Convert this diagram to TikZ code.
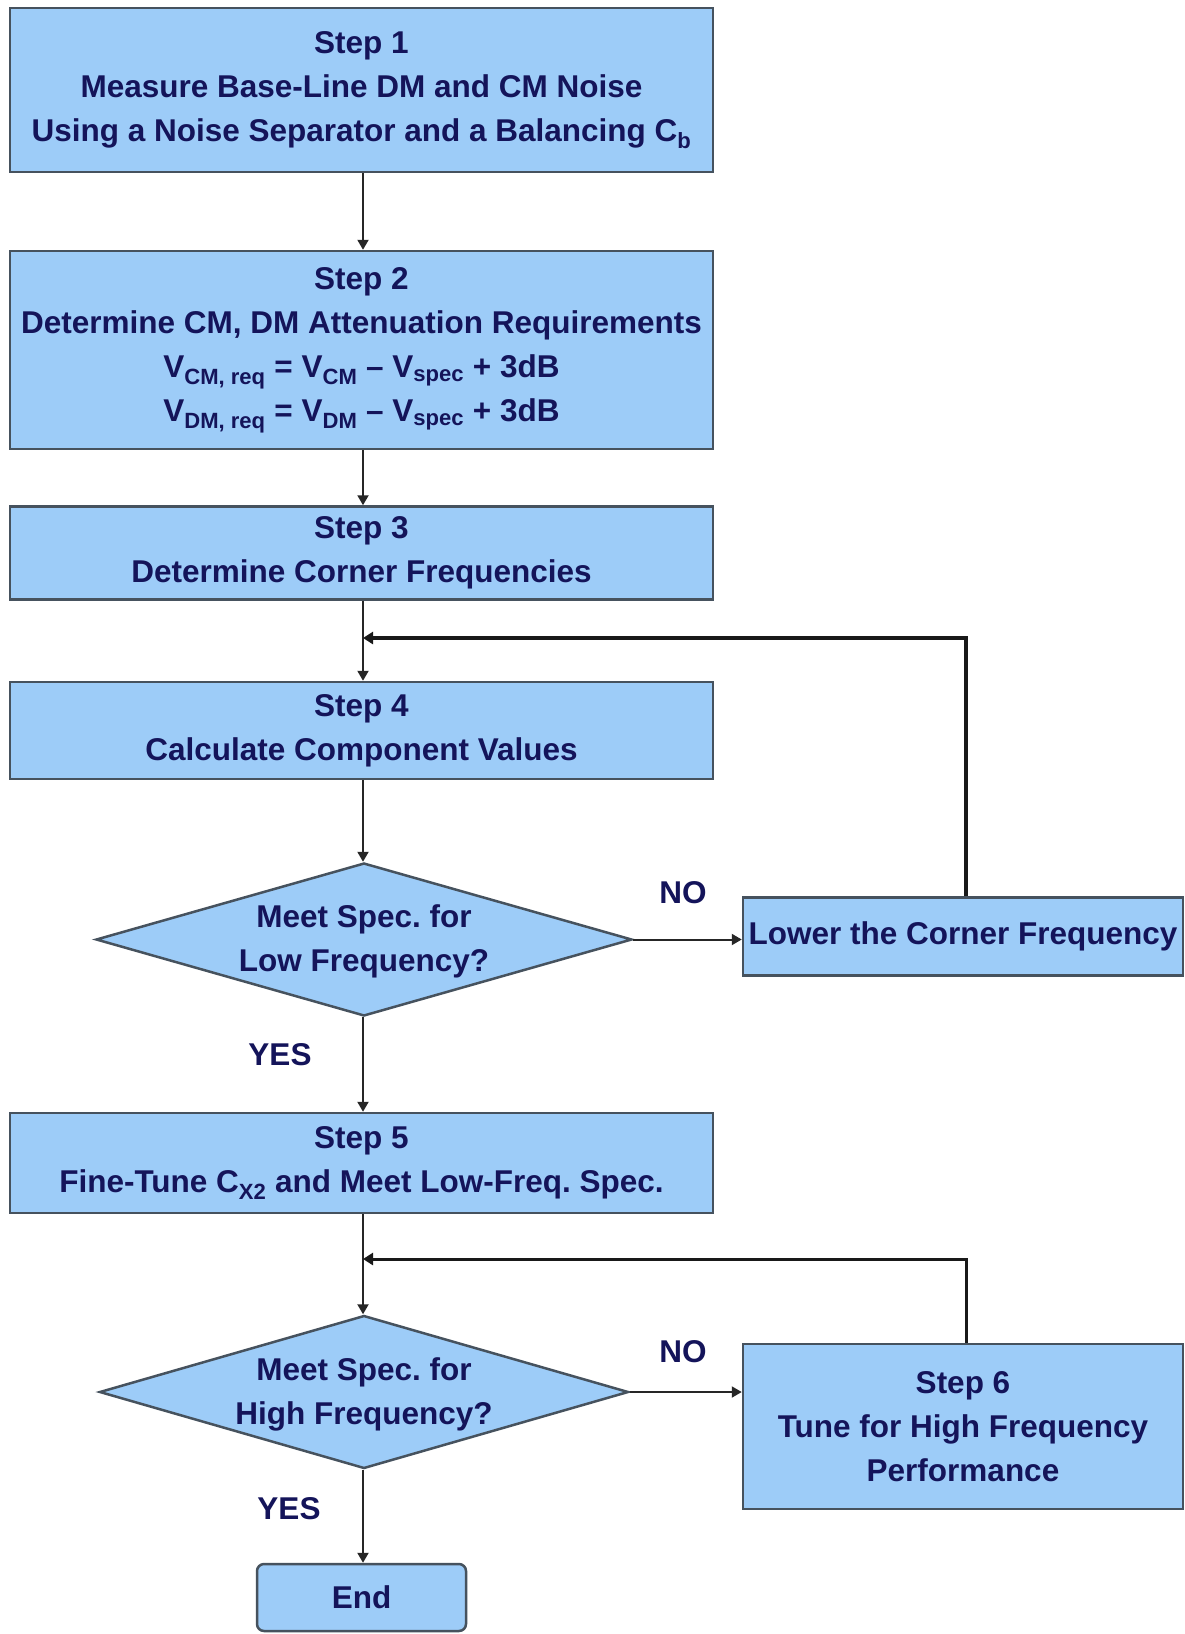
\documentclass[tikz,border=0pt]{standalone}
\usepackage{fontspec}
\setmainfont{Liberation Sans}
\usetikzlibrary{shapes.geometric,arrows.meta}
\definecolor{boxfill}{HTML}{9DCCF8}
\definecolor{boxline}{HTML}{46525E}
\definecolor{txtcol}{HTML}{14145A}
\newcommand{\flowfont}{\frenchspacing\bfseries\fontsize{31.5}{44}\selectfont}
\tikzset{
  basebox/.style={draw=boxline, line width=2.5pt, fill=boxfill, text=txtcol,
    font=\flowfont, align=center, inner sep=0pt},
  stepbox/.style={basebox, minimum width=703pt},
  sidebox/.style={basebox, minimum width=440pt},
  decision/.style={draw=boxline, line width=2.5pt, fill=boxfill, shape=diamond,
    inner sep=0pt, minimum width=#1, minimum height=153pt},
  dtext/.style={text=txtcol, font=\flowfont, align=center, inner sep=0pt},
  lbl/.style={text=txtcol, font=\flowfont, inner sep=0pt},
  arr/.style={line width=2pt, draw=black!85, -{Triangle[length=10pt,width=11pt]}},
  looparr/.style={line width=#1, draw=black!90, -{Triangle[length=10pt,width=12pt]}},
}
\begin{document}
\begin{tikzpicture}[x=1pt,y=-1pt]
\useasboundingbox[fill=white] (0,0) rectangle (1184,1634);

\node[stepbox, minimum height=164pt] (s1) at (361.5,90)
  {Step 1\\Measure Base-Line DM and CM Noise\\Using a Noise Separator and a Balancing C\textsubscript{b}};
\node[stepbox, minimum height=198pt] (s2) at (361.5,350)
  {Step 2\\Determine CM, DM Attenuation Requirements\\
   V\textsubscript{CM, req} = V\textsubscript{CM} – V\textsubscript{spec} + 3dB\\
   V\textsubscript{DM, req} = V\textsubscript{DM} – V\textsubscript{spec} + 3dB};
\node[stepbox, minimum height=93pt] (s3) at (361.5,553)
  {Step 3\\Determine Corner Frequencies};
\node[stepbox, minimum height=97pt] (s4) at (361.5,730.5)
  {Step 4\\Calculate Component Values};
\node[decision=536pt] (d1) at (364,939.5) {};
\node[dtext] (d1t) at (364,941) {Meet Spec. for\\Low Frequency?};
\node[sidebox, minimum height=78pt] (low) at (963,936.5)
  {Lower the Corner Frequency};
\node[stepbox, minimum height=100pt] (s5) at (361.5,1163)
  {Step 5\\Fine-Tune C\textsubscript{X2} and Meet Low-Freq. Spec.};
\node[decision=529pt] (d2) at (364,1392) {};
\node[dtext] (d2t) at (364,1394) {Meet Spec. for\\High Frequency?};
\node[sidebox, minimum height=165pt] (s6) at (963,1426.5)
  {Step 6\\Tune for High Frequency\\Performance};
\node[basebox, rounded corners=7pt, minimum width=209pt, minimum height=67pt] (end) at (361.5,1597.5) {End};

\node[lbl] (no1) at (683,893) {NO};
\node[lbl] (yes1) at (280,1055) {YES};
\node[lbl] (no2) at (683,1352) {NO};
\node[lbl] (yes2) at (289,1509) {YES};

\coordinate (j1) at (363,638);
\coordinate (j2) at (363,1259);

\draw[arr] (s1.south -| 363,0) -- (s2.north -| 363,0);
\draw[arr] (s2.south -| 363,0) -- (s3.north -| 363,0);
\draw[arr] (s3.south -| 363,0) -- (s4.north -| 363,0);
\draw[arr] (s4.south -| 363,0) -- (d1.north -| 363,0);
\draw[arr] (d1.south -| 363,0) -- (s5.north -| 363,0);
\draw[arr] (s5.south -| 363,0) -- (d2.north -| 363,0);
\draw[arr] (d2.south -| 363,0) -- (end.north -| 363,0);
\draw[arr] (d1.east) -- (low.west |- d1.east);
\draw[arr] (d2.east) -- (s6.west |- d2.east);
\draw[looparr=4pt] (low.north -| 966,0) |- (j1);
\draw[looparr=3pt] (s6.north -| 966,0) |- (j2);
\end{tikzpicture}
\end{document}
